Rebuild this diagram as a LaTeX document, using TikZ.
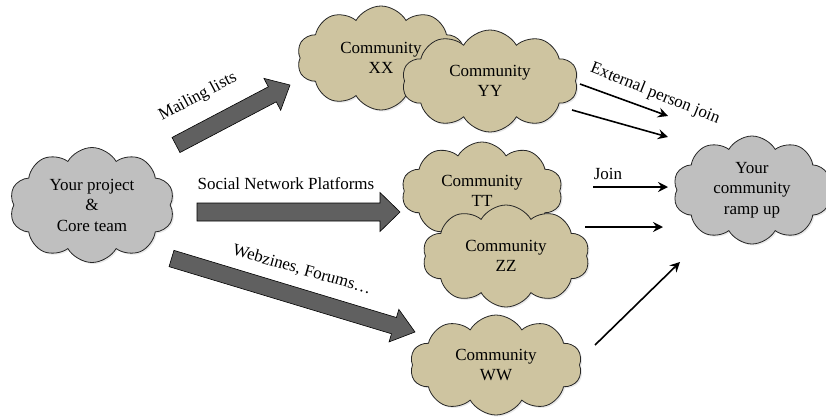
\documentclass[tikz,border=0pt]{standalone}
\usepackage{fontspec}
\setmainfont{Liberation Serif}
\usetikzlibrary{shapes.symbols,arrows.meta,calc,shadows}
\definecolor{tanfill}{RGB}{206,196,160}
\definecolor{cloudgray}{RGB}{191,191,191}
\definecolor{arrowgray}{RGB}{96,96,96}
\newcommand\lbl{\fontsize{17}{20.5}\selectfont}
\tikzset{
  cloudbox/.style={cloud, cloud puffs=10, cloud puff arc=120, cloud ignores aspect,
    draw=black!85, line width=0.8pt, inner sep=0pt, align=center, font=\lbl,
    drop shadow={opacity=0.18, shadow xshift=1.5pt, shadow yshift=-1.5pt}},
  tancloud/.style={cloudbox, fill=tanfill},
  graycloud/.style={cloudbox, fill=cloudgray},
  thinarrow/.style={-{Stealth[length=10pt,width=10pt,inset=3.5pt]}, line width=1.6pt},
  txt/.style={font=\lbl, inner sep=0pt},
  blockarrow/.style={fill=arrowgray, draw=black, line width=0.6pt, line join=miter}
}
% block arrow from tail #1 to tip #2: half shaft #3, half head #4, head length #5
\newcommand\blockarrowdraw[5]{%
  \coordinate (#1-h) at ($(#2)!#5!(#1)$);
  \draw[blockarrow]
    ($(#1)!#3!90:(#2)$) -- ($(#1-h)!#3!90:(#2)$) -- ($(#1-h)!#4!90:(#2)$) --
    (#2) -- ($(#1-h)!#4!-90:(#2)$) -- ($(#1-h)!#3!-90:(#2)$) --
    ($(#1)!#3!-90:(#2)$) -- cycle;}
\begin{document}
\begin{tikzpicture}[x=1pt,y=-1pt]
\useasboundingbox (0,0) rectangle (826,416);
\begin{scope}
\clip (0,0) rectangle (826,416);

% clouds
\node[graycloud, minimum width=165pt, minimum height=115pt] (proj) at (92,205) {Your project\\\&\\Core team};
\node[tancloud, minimum width=168pt, minimum height=104pt] (xx) at (381,58) {Community\\XX};
\node[tancloud, minimum width=176pt, minimum height=102pt] (yy) at (490,81) {Community\\YY};
\node[tancloud, minimum width=161pt, minimum height=98pt] (tt) at (482,191) {Community\\TT};
\node[tancloud, minimum width=167pt, minimum height=102pt] (zz) at (506,256) {Community\\ZZ};
\node[tancloud, minimum width=172pt, minimum height=100pt] (ww) at (496,365) {Community\\WW};
\node[graycloud, minimum width=158pt, minimum height=108pt] (ramp) at (752,190) {Your\\community\\ramp up};

% broadcast channels
\coordinate (mlA) at (176,145); \coordinate (mlB) at (290,85);
\coordinate (snA) at (197,212); \coordinate (snB) at (400,212);
\coordinate (wzA) at (171.5,258.5); \coordinate (wzB) at (415,332);
\blockarrowdraw{mlA}{mlB}{8.5pt}{18pt}{20pt}
\blockarrowdraw{snA}{snB}{9pt}{19.5pt}{20pt}
\blockarrowdraw{wzA}{wzB}{8.5pt}{17pt}{22pt}

\node[txt, rotate=28] (ml) at (198,97) {Mailing lists};
\node[txt] (snp) at (286,184) {Social Network Platforms};
\node[txt, rotate=-16] (wf) at (302,270) {Webzines, Forums…};

% joins towards the community
\coordinate (j1a) at (580,84);  \coordinate (j1b) at (668,116);
\coordinate (j2a) at (572,110); \coordinate (j2b) at (668,137);
\coordinate (j3a) at (593,187); \coordinate (j3b) at (668,187);
\coordinate (j4a) at (585,227); \coordinate (j4b) at (663,227);
\coordinate (j5a) at (595,345); \coordinate (j5b) at (680,262);
\draw[thinarrow] (j1a) -- (j1b);
\draw[thinarrow] (j2a) -- (j2b);
\draw[thinarrow] (j3a) -- (j3b);
\draw[thinarrow] (j4a) -- (j4b);
\draw[thinarrow] (j5a) -- (j5b);

\node[txt, rotate=-22] (epj) at (655,94) {External person join};
\node[txt] (jn) at (608,174) {Join};
\end{scope}
\end{tikzpicture}
\end{document}
